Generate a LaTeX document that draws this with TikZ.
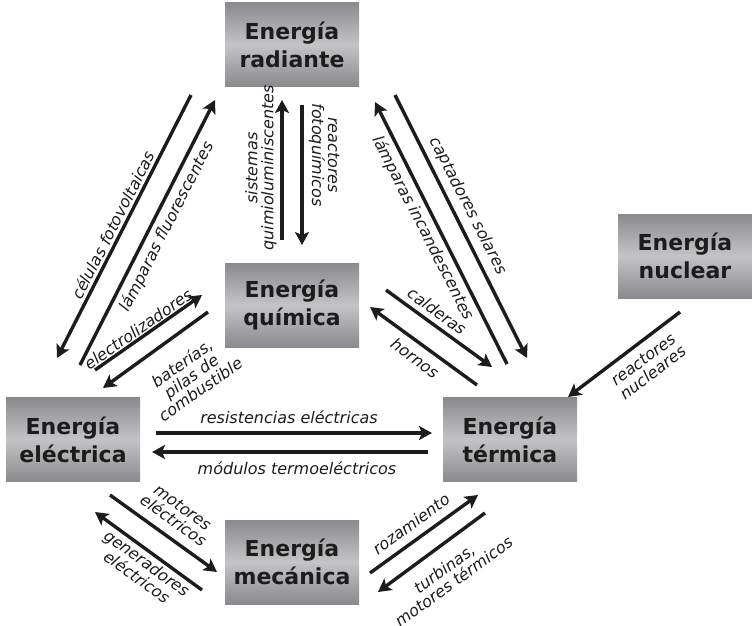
\documentclass[tikz,border=0pt]{standalone}
\usepackage{fontspec}
\setmainfont{DejaVu Sans}
\usetikzlibrary{arrows.meta}
\definecolor{boxd}{RGB}{138,138,140}
\definecolor{boxl}{RGB}{196,196,198}
\definecolor{txt}{RGB}{28,28,28}
\tikzset{
  ebox/.style={minimum width=134pt, minimum height=84pt, inner sep=0pt,
    top color=boxd, bottom color=boxd, middle color=boxl,
    font=\bfseries\fontsize{22}{28}\selectfont, align=center, text=txt},
  lbl/.style={font=\itshape\fontsize{16}{16}\selectfont, align=center, text=txt, inner sep=0pt},
  arr/.style={line width=3.4pt, draw=txt, -{Stealth[length=13pt,width=14pt,inset=3pt]}}
}
\begin{document}
\begin{tikzpicture}[x=1pt,y=-1pt]
\useasboundingbox (0,0) rectangle (752,625);
% boxes
\node[ebox] (rad) at (292,44.5) {Energía\\radiante};
\node[ebox] (quim) at (292,305) {Energía\\química};
\node[ebox] (nuc) at (685,256) {Energía\\nuclear};
\node[ebox] (elec) at (73,439.5) {Energía\\eléctrica};
\node[ebox] (term) at (510,439.5) {Energía\\térmica};
\node[ebox] (mec) at (292,562) {Energía\\mecánica};
% coordinates
\coordinate (a1s) at (191,95);  \coordinate (a1e) at (57,358);
\coordinate (a2s) at (80,365);  \coordinate (a2e) at (215,100);
\coordinate (a3s) at (95,370);  \coordinate (a3e) at (202,295);
\coordinate (a4s) at (208,312); \coordinate (a4e) at (103,388);
\coordinate (a5s) at (282,240); \coordinate (a5e) at (282,100);
\coordinate (a6s) at (302,105); \coordinate (a6e) at (302,245);
\coordinate (a7s) at (507,364); \coordinate (a7e) at (375,102);
\coordinate (a8s) at (395,95);  \coordinate (a8e) at (527,358);
\coordinate (a9s) at (386,290); \coordinate (a9e) at (492,367);
\coordinate (a10s) at (477,385); \coordinate (a10e) at (370,307);
\coordinate (a11s) at (680,312); \coordinate (a11e) at (568,397);
\coordinate (a12s) at (156,433); \coordinate (a12e) at (432,433);
\coordinate (a13s) at (428,452); \coordinate (a13e) at (152,452);
\coordinate (a14s) at (110,495); \coordinate (a14e) at (217,572);
\coordinate (a15s) at (202,590); \coordinate (a15e) at (95,512);
\coordinate (a16s) at (370,573); \coordinate (a16e) at (478,495);
\coordinate (a17s) at (485,513); \coordinate (a17e) at (378,592);
% arrows
\foreach \i in {1,...,17} {\draw[arr] (a\i s) -- (a\i e);}
% labels
\node[lbl, rotate=63] (l1) at (113,225) {células fotovoltaicas};
\node[lbl, rotate=63] (l2) at (167,227) {lámparas fluorescentes};
\node[lbl, rotate=35] (l3) at (138,329) {electrolizadores};
\node[lbl, rotate=35] (l4) at (191,376) {baterías,\\pilas de\\combustible};
\node[lbl, rotate=90] (l5) at (261,168) {sistemas\\quimioluminiscentes};
\node[lbl, rotate=-90] (l6) at (324,155) {reactores\\fotoquímicos};
\node[lbl, rotate=-63] (l7) at (423,228) {lámparas incandescentes};
\node[lbl, rotate=-63] (l8) at (468,206) {captadores solares};
\node[lbl, rotate=-36] (l9) at (437,311) {calderas};
\node[lbl, rotate=-36] (l10) at (415,358) {hornos};
\node[lbl, rotate=37] (l11) at (648,366) {reactores\\nucleares};
\node[lbl] (l12) at (289,417) {resistencias eléctricas};
\node[lbl] (l13) at (297,468) {módulos termoeléctricos};
\node[lbl, rotate=-36] (l14) at (178,514) {motores\\eléctricos};
\node[lbl, rotate=-36] (l15) at (142,570) {generadores\\eléctricos};
\node[lbl, rotate=36] (l16) at (411,524) {rozamiento};
\node[lbl, rotate=36] (l17) at (449,575) {turbinas,\\motores térmicos};
\end{tikzpicture}
\end{document}
